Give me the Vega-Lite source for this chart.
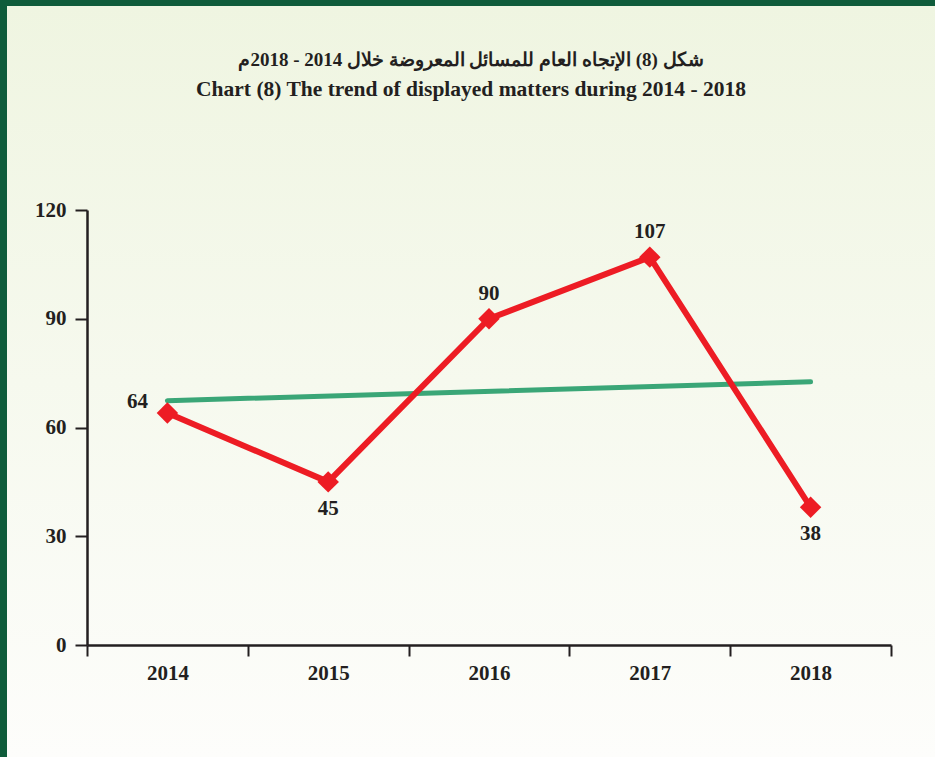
{
  "$schema": "https://vega.github.io/schema/vega-lite/v6.json",
  "width": 928,
  "height": 751,
  "autosize": {"type": "none"},
  "padding": {"left": 7, "top": 6, "right": 0, "bottom": 0},
  "background": "#0f5c3b",
  "title": {
    "text": "شكل (8) الإتجاه العام للمسائل المعروضة خلال 2014 - 2018م",
    "subtitle": "Chart (8) The trend of displayed matters during 2014 - 2018",
    "font": "Liberation Serif",
    "fontSize": 19,
    "fontWeight": "bold",
    "color": "#231f20",
    "subtitleFont": "Liberation Serif",
    "subtitleFontSize": 21.5,
    "subtitleFontWeight": "bold",
    "subtitleColor": "#231f20",
    "subtitlePadding": 9,
    "anchor": "middle",
    "offset": -94
  },
  "config": {
    "view": {
      "stroke": null,
      "fill": {
        "gradient": "linear",
        "x1": 0, "y1": 0, "x2": 0, "y2": 1,
        "stops": [
          {"offset": 0, "color": "#eff5e1"},
          {"offset": 1, "color": "#fdfdfb"}
        ]
      }
    },
    "axis": {
      "domainColor": "#231f20",
      "domainWidth": 2.5,
      "tickColor": "#231f20",
      "tickWidth": 2,
      "tickSize": 12,
      "labelFont": "Liberation Serif",
      "labelFontSize": 21,
      "labelFontWeight": "bold",
      "labelColor": "#231f20",
      "grid": false,
      "title": null
    },
    "axisX": {"offset": -112, "labelAngle": 0, "labelPadding": 6, "tickSize": 11},
    "axisY": {"offset": -80, "labelPadding": 9}
  },
  "datasets": {
    "main": [
      {"year": "2014", "value": 64},
      {"year": "2015", "value": 45},
      {"year": "2016", "value": 90},
      {"year": "2017", "value": 107},
      {"year": "2018", "value": 38}
    ],
    "trend": [
      {"year": "2014", "value": 67.4},
      {"year": "2018", "value": 72.6}
    ]
  },
  "layer": [
    {
      "data": {"name": "trend"},
      "mark": {"type": "line", "color": "#3aa677", "strokeWidth": 5, "strokeCap": "round"},
      "encoding": {
        "x": {"field": "year", "type": "ordinal", "title": null,
              "scale": {"range": [80, 884], "paddingInner": 0, "paddingOuter": 0},
              "axis": {"tickBand": "extent", "labelAngle": 0}},
        "y": {"field": "value", "type": "quantitative", "title": null,
              "scale": {"domain": [0, 120], "range": [639, 204]},
              "axis": {"values": [0, 30, 60, 90, 120]}}
      }
    },
    {
      "data": {"name": "main"},
      "mark": {"type": "line", "color": "#ed1c24", "strokeWidth": 6},
      "encoding": {
        "x": {"field": "year", "type": "ordinal", "title": null, "axis": {"tickBand": "extent", "labelAngle": 0}},
        "y": {"field": "value", "type": "quantitative", "title": null}
      }
    },
    {
      "data": {"name": "main"},
      "mark": {"type": "point", "shape": "diamond", "filled": true, "color": "#ed1c24", "size": 460, "opacity": 1},
      "encoding": {
        "x": {"field": "year", "type": "ordinal", "title": null, "axis": {"tickBand": "extent", "labelAngle": 0}},
        "y": {"field": "value", "type": "quantitative", "title": null}
      }
    },
    {
      "data": {"name": "main"},
      "transform": [{"filter": "datum.year == '2014'"}],
      "mark": {"type": "text", "font": "Liberation Serif", "fontSize": 21, "fontWeight": "bold", "color": "#231f20", "dx": -30, "dy": -11},
      "encoding": {
        "x": {"field": "year", "type": "ordinal", "title": null, "axis": {"tickBand": "extent", "labelAngle": 0}},
        "y": {"field": "value", "type": "quantitative", "title": null},
        "text": {"field": "value"}
      }
    },
    {
      "data": {"name": "main"},
      "transform": [{"filter": "datum.year == '2016' || datum.year == '2017'"}],
      "mark": {"type": "text", "font": "Liberation Serif", "fontSize": 21, "fontWeight": "bold", "color": "#231f20", "dy": -25},
      "encoding": {
        "x": {"field": "year", "type": "ordinal", "title": null, "axis": {"tickBand": "extent", "labelAngle": 0}},
        "y": {"field": "value", "type": "quantitative", "title": null},
        "text": {"field": "value"}
      }
    },
    {
      "data": {"name": "main"},
      "transform": [{"filter": "datum.year == '2015' || datum.year == '2018'"}],
      "mark": {"type": "text", "font": "Liberation Serif", "fontSize": 21, "fontWeight": "bold", "color": "#231f20", "dy": 27},
      "encoding": {
        "x": {"field": "year", "type": "ordinal", "title": null, "axis": {"tickBand": "extent", "labelAngle": 0}},
        "y": {"field": "value", "type": "quantitative", "title": null},
        "text": {"field": "value"}
      }
    }
  ]
}
